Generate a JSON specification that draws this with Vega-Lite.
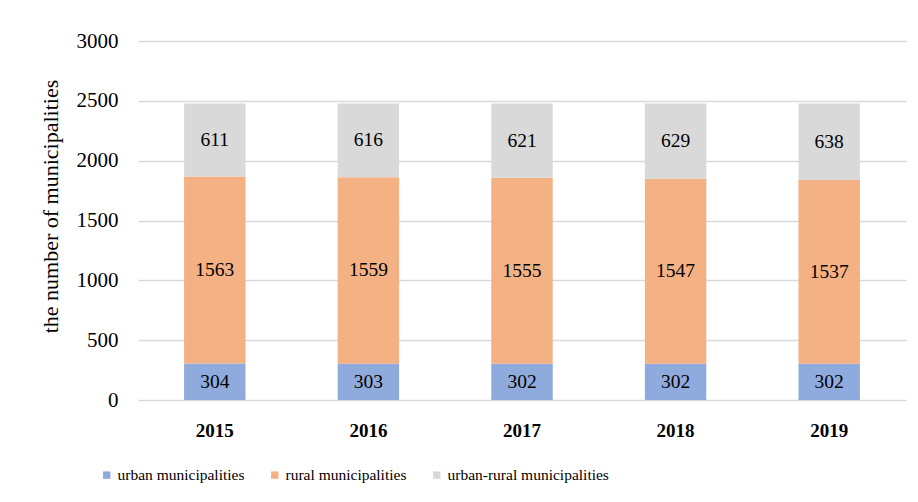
{
  "$schema": "https://vega.github.io/schema/vega-lite/v6.json",
  "width": 768,
  "height": 359,
  "autosize": "none",
  "padding": {"left": 138, "top": 41, "right": 12, "bottom": 102},
  "background": "white",
  "data": {
    "values": [
      {"year": "2015", "type": "urban municipalities", "ord": 1, "value": 304},
      {"year": "2015", "type": "rural municipalities", "ord": 2, "value": 1563},
      {"year": "2015", "type": "urban-rural municipalities", "ord": 3, "value": 611},
      {"year": "2016", "type": "urban municipalities", "ord": 1, "value": 303},
      {"year": "2016", "type": "rural municipalities", "ord": 2, "value": 1559},
      {"year": "2016", "type": "urban-rural municipalities", "ord": 3, "value": 616},
      {"year": "2017", "type": "urban municipalities", "ord": 1, "value": 302},
      {"year": "2017", "type": "rural municipalities", "ord": 2, "value": 1555},
      {"year": "2017", "type": "urban-rural municipalities", "ord": 3, "value": 621},
      {"year": "2018", "type": "urban municipalities", "ord": 1, "value": 302},
      {"year": "2018", "type": "rural municipalities", "ord": 2, "value": 1547},
      {"year": "2018", "type": "urban-rural municipalities", "ord": 3, "value": 629},
      {"year": "2019", "type": "urban municipalities", "ord": 1, "value": 302},
      {"year": "2019", "type": "rural municipalities", "ord": 2, "value": 1537},
      {"year": "2019", "type": "urban-rural municipalities", "ord": 3, "value": 638}
    ]
  },
  "encoding": {
    "x": {
      "field": "year",
      "type": "ordinal",
      "scale": {"paddingInner": 0.6, "paddingOuter": 0.3},
      "axis": {
        "title": null,
        "labelAngle": 0,
        "labelFont": "Liberation Serif",
        "labelFontSize": 19,
        "labelFontWeight": "bold",
        "labelColor": "#000000",
        "labelPadding": 21,
        "ticks": false,
        "domain": false
      }
    },
    "y": {
      "field": "value",
      "type": "quantitative",
      "stack": "zero",
      "scale": {"domain": [0, 3000]},
      "axis": {
        "title": "the number of municipalities",
        "titleFont": "Liberation Serif",
        "titleFontSize": 22,
        "titleFontWeight": "normal",
        "titleColor": "#000000",
        "titleX": -88,
        "titleY": 165,
        "titleAngle": -90,
        "titleAlign": "center",
        "titleBaseline": "middle",
        "values": [0, 500, 1000, 1500, 2000, 2500, 3000],
        "format": "d",
        "labelFont": "Liberation Serif",
        "labelFontSize": 21,
        "labelColor": "#000000",
        "labelPadding": 20,
        "ticks": false,
        "domain": false,
        "grid": true,
        "gridColor": "#d9d9d9",
        "gridWidth": 1.5
      }
    },
    "order": {"field": "ord", "type": "quantitative"}
  },
  "layer": [
    {
      "mark": {"type": "bar"},
      "encoding": {
        "color": {
          "field": "type",
          "type": "nominal",
          "scale": {
            "domain": ["urban municipalities", "rural municipalities", "urban-rural municipalities"],
            "range": ["#8faadc", "#f4b183", "#d9d9d9"]
          },
          "legend": {
            "title": null,
            "orient": "none",
            "direction": "horizontal",
            "legendX": -39,
            "legendY": 426,
            "symbolType": "square",
            "symbolSize": 55,
            "labelFont": "Liberation Serif",
            "labelFontSize": 15.5,
            "labelColor": "#000000",
            "labelLimit": 400,
            "labelOffset": 3,
            "columnPadding": 22
          }
        }
      }
    },
    {
      "mark": {"type": "text", "font": "Liberation Serif", "fontSize": 19.5, "color": "#000000"},
      "encoding": {
        "y": {"field": "value", "type": "quantitative", "stack": "zero", "bandPosition": 0.5},
        "text": {"field": "value", "type": "quantitative"}
      }
    }
  ],
  "config": {"view": {"stroke": null}}
}
